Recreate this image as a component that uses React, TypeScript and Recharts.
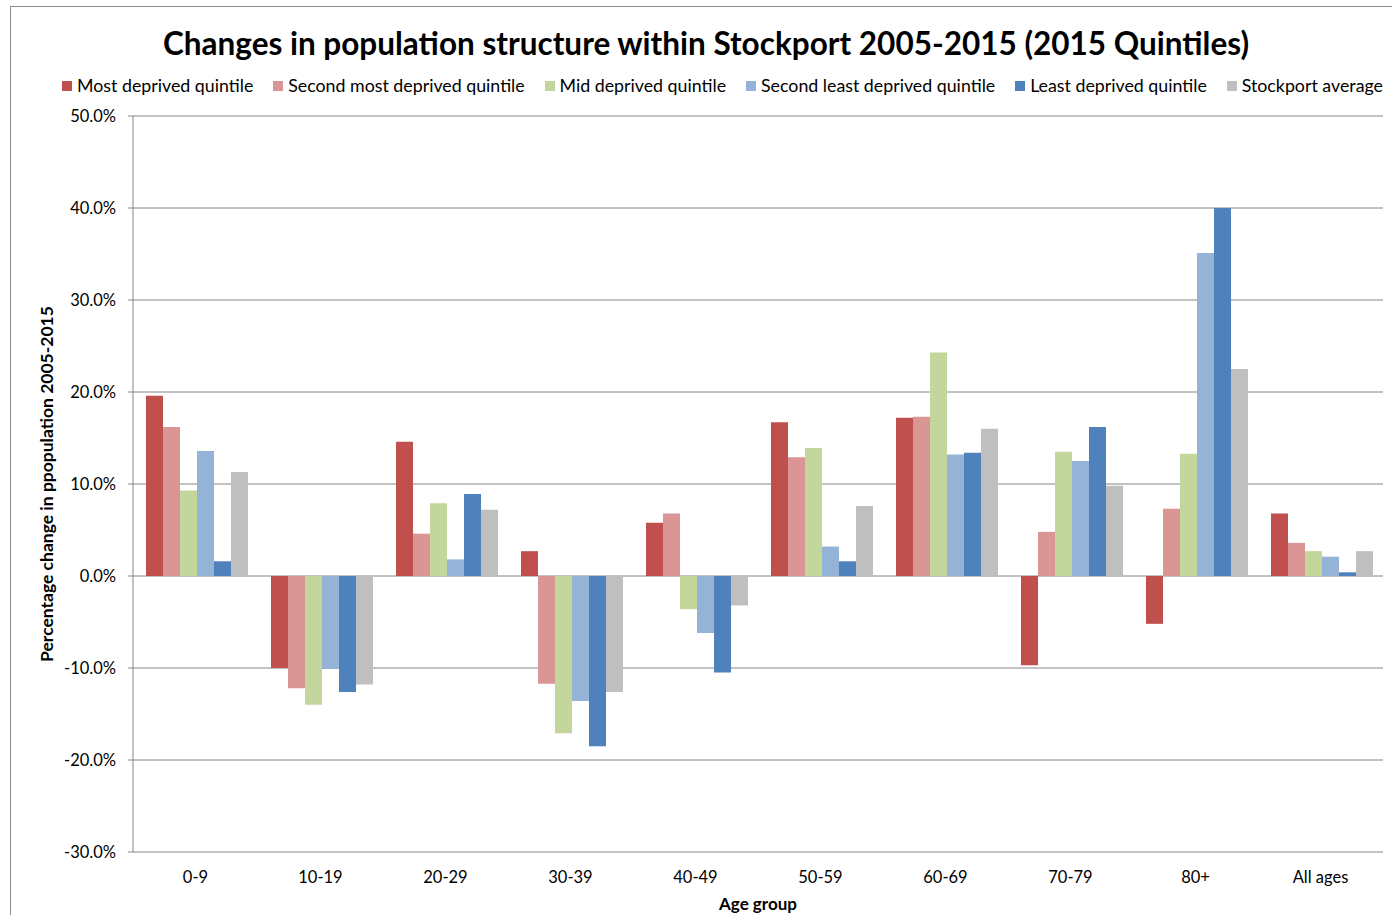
import { Bar, BarChart, CartesianGrid, Legend, XAxis, YAxis } from "recharts";

const ageGroups = ["0-9", "10-19", "20-29", "30-39", "40-49", "50-59", "60-69", "70-79", "80+", "All ages"];

const mostDeprived = [19.6, -10.0, 14.6, 2.7, 5.8, 16.7, 17.2, -9.7, -5.2, 6.8];
const secondMostDeprived = [16.2, -12.2, 4.6, -11.7, 6.8, 12.9, 17.3, 4.8, 7.3, 3.6];
const midDeprived = [9.3, -14.0, 7.9, -17.1, -3.6, 13.9, 24.3, 13.5, 13.3, 2.7];
const secondLeastDeprived = [13.6, -10.1, 1.8, -13.6, -6.2, 3.2, 13.2, 12.5, 35.1, 2.1];
const leastDeprived = [1.6, -12.6, 8.9, -18.5, -10.5, 1.6, 13.4, 16.2, 40.0, 0.4];
const stockportAverage = [11.3, -11.8, 7.2, -12.6, -3.2, 7.6, 16.0, 9.8, 22.5, 2.7];

const yTicks = [-30, -20, -10, 0, 10, 20, 30, 40, 50];

const series = [
  { key: "most", name: "Most deprived quintile", color: "#C0504D", values: mostDeprived },
  { key: "secondMost", name: "Second most deprived quintile", color: "#D99694", values: secondMostDeprived },
  { key: "mid", name: "Mid deprived quintile", color: "#C3D69B", values: midDeprived },
  { key: "secondLeast", name: "Second least deprived quintile", color: "#95B3D7", values: secondLeastDeprived },
  { key: "least", name: "Least deprived quintile", color: "#4F81BD", values: leastDeprived },
  { key: "avg", name: "Stockport average", color: "#BFBFBF", values: stockportAverage },
];

const data = ageGroups.map((group, i) => {
  const row: Record<string, string | number> = { group };
  series.forEach((s) => {
    row[s.key] = s.values[i];
  });
  return row;
});

const FONT = "Lato, 'Open Sans', sans-serif";

function LegendRow() {
  return (
    <div
      style={{
        display: "flex",
        justifyContent: "space-between",
        fontFamily: FONT,
        fontSize: 17.8,
        lineHeight: "21px",
        height: 21,
        color: "#000",
      }}
    >
      {series.map((s) => (
        <div key={s.key} style={{ display: "flex", alignItems: "center", whiteSpace: "nowrap" }}>
          <span style={{ width: 10, height: 10, background: s.color, marginRight: 5, display: "inline-block" }} />
          {s.name}
        </div>
      ))}
    </div>
  );
}

export default function App() {
  return (
    <div
      style={{
        position: "fixed",
        left: 10,
        top: 6,
        width: 1400,
        height: 930,
        border: "1px solid #8c8c8c",
        background: "#fff",
      }}
    >
      <div
        style={{
          position: "absolute",
          left: 0,
          width: 1390,
          top: 17,
          textAlign: "center",
          fontFamily: FONT,
          fontWeight: 700,
          fontSize: 31.5,
          color: "#000",
        }}
      >
        Changes in population structure within Stockport 2005-2015 (2015 Quintiles)
      </div>
      <BarChart
        width={1381}
        height={910}
        data={data}
        margin={{ top: 88, right: 9, bottom: 5, left: 0 }}
        barCategoryGap="10.4%"
        barGap={0}
      >
        <CartesianGrid vertical={false} stroke="#868686" strokeWidth={1} />
        <XAxis
          dataKey="group"
          axisLine={false}
          tickLine={false}
          height={60}
          tickSize={0}
          tick={{ fontFamily: FONT, fontSize: 16.5, fill: "#000" }}
          tickMargin={19}
          label={{
            value: "Age group",
            position: "insideBottom",
            offset: 2,
            style: { fontFamily: FONT, fontSize: 17, fontWeight: 700, fill: "#000" },
          }}
        />
        <YAxis
          width={122}
          domain={[-30, 50]}
          ticks={yTicks}
          interval={0}
          tickFormatter={(v: number) => `${v.toFixed(1)}%`}
          axisLine={{ stroke: "#868686" }}
          tickLine={{ stroke: "#868686" }}
          tickSize={5}
          tickMargin={12}
          tick={{ fontFamily: FONT, fontSize: 16.5, fill: "#000" }}
          label={{
            value: "Percentage change in ppopulation 2005-2015",
            angle: -90,
            position: "insideLeft",
            offset: 36,
            style: { textAnchor: "middle", fontFamily: FONT, fontSize: 17.5, fontWeight: 700, fill: "#000" },
          }}
        />
        <Legend
          verticalAlign="top"
          content={() => <LegendRow />}
          wrapperStyle={{ top: 68, left: 51, width: 1321 }}
        />
        {series.map((s) => (
          <Bar key={s.key} dataKey={s.key} name={s.name} fill={s.color} isAnimationActive={false} />
        ))}
      </BarChart>
    </div>
  );
}
